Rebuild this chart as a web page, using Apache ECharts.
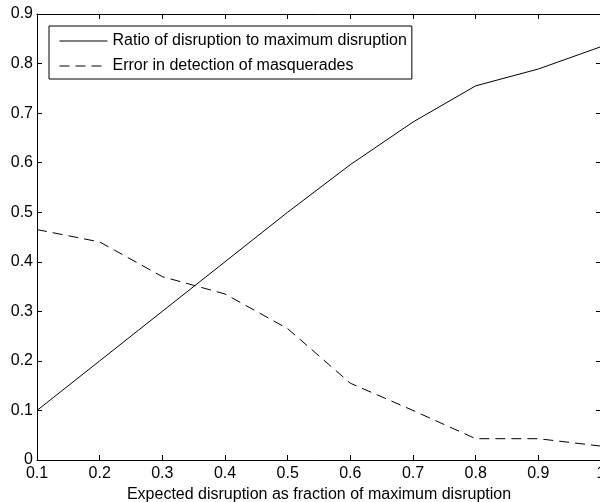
<!DOCTYPE html>
<html>
<head>
<meta charset="utf-8">
<script src="https://cdn.jsdelivr.net/npm/echarts@6/dist/echarts.min.js"></script>
<style>
  html, body { margin: 0; padding: 0; background: #fff; }
  #chart { width: 600px; height: 502px; }
</style>
</head>
<body>
<div id="chart"></div>
<script>
  // expected disruption (x)
  const xValues = [0.1, 0.2, 0.3, 0.4, 0.5, 0.6, 0.7, 0.8, 0.9, 1.0];
  // ratio of disruption to maximum disruption
  const ratioValues = [0.1, 0.2, 0.3, 0.4, 0.5, 0.596, 0.682, 0.755, 0.789, 0.834];
  // error in detection of masquerades
  const errorValues = [0.465, 0.44, 0.37, 0.335, 0.265, 0.155, 0.1, 0.043, 0.043, 0.028];

  const seriesNames = ['Ratio of disruption to maximum disruption', 'Error in detection of masquerades'];

  const font = 'Liberation Sans, Arial, Helvetica, sans-serif';
  const chart = echarts.init(document.getElementById('chart'));

  const tickStyle = { show: true, inside: true, length: 5, lineStyle: { color: '#000', width: 1 } };
  const lineAxis = { show: true, onZero: false, lineStyle: { color: '#000', width: 1 } };

  chart.setOption({
    animation: false,
    grid: { left: 37, top: 14, right: -1, bottom: 42, outerBoundsMode: 'none', containLabel: false },
    legend: {
      orient: 'vertical',
      left: 49,
      top: 26,
      padding: [7, 5, 5, 10],
      itemGap: 9,
      itemWidth: 48,
      itemHeight: 14,
      borderColor: '#000',
      borderWidth: 1,
      backgroundColor: '#fff',
      itemStyle: { color: 'rgba(0,0,0,0)', borderWidth: 0 },
      lineStyle: { width: 1 },
      textStyle: { color: '#000', fontSize: 16, fontFamily: font },
      data: seriesNames
    },
    xAxis: [
      {
        type: 'value', min: 0.1, max: 1, interval: 0.1,
        axisLine: lineAxis, axisTick: tickStyle, splitLine: { show: false },
        axisLabel: { color: '#000', fontSize: 16, fontFamily: font, margin: 6 },
        name: 'Expected disruption as fraction of maximum disruption',
        nameLocation: 'middle', nameGap: 24,
        nameTextStyle: { color: '#000', fontSize: 16, fontFamily: font }
      },
      {
        type: 'value', position: 'top', min: 0.1, max: 1, interval: 0.1,
        axisLine: lineAxis, axisTick: tickStyle, splitLine: { show: false },
        axisLabel: { show: false }
      }
    ],
    yAxis: [
      {
        type: 'value', min: 0, max: 0.9, interval: 0.1,
        axisLine: lineAxis, axisTick: tickStyle, splitLine: { show: false },
        axisLabel: { color: '#000', fontSize: 16, fontFamily: font, margin: 4 }
      },
      {
        type: 'value', position: 'right', min: 0, max: 0.9, interval: 0.1,
        axisLine: lineAxis, axisTick: tickStyle, splitLine: { show: false },
        axisLabel: { show: false }
      }
    ],
    series: [
      {
        name: seriesNames[0], type: 'line', symbol: 'none',
        data: xValues.map((x, i) => [x, ratioValues[i]]),
        itemStyle: { color: '#000' },
        lineStyle: { color: '#000', width: 1, type: 'solid' }
      },
      {
        name: seriesNames[1], type: 'line', symbol: 'none',
        data: xValues.map((x, i) => [x, errorValues[i]]),
        itemStyle: { color: '#000' },
        lineStyle: { color: '#000', width: 1, type: [10, 6] }
      }
    ]
  });
</script>
</body>
</html>
